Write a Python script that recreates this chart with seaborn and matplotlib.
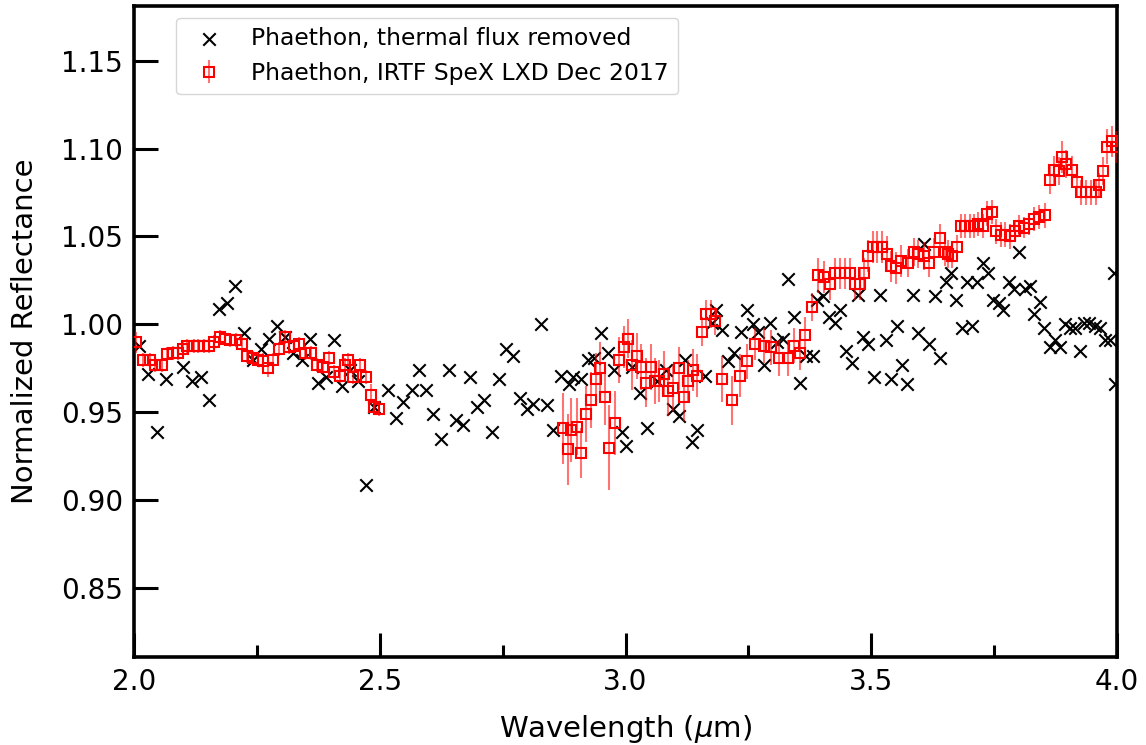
import numpy as np
import pandas as pd
import matplotlib
matplotlib.use("Agg")
import matplotlib.pyplot as plt
import seaborn as sns
from matplotlib.ticker import MultipleLocator

# ---- data: thermal-flux-removed spectrum (black x) ----
thermal_wl = [2.009, 2.029, 2.047, 2.065, 2.100, 2.118, 2.136, 2.153, 2.172, 2.189,
              2.206, 2.224, 2.241, 2.258, 2.275, 2.291, 2.307, 2.324, 2.341, 2.358,
              2.375, 2.391, 2.407, 2.423, 2.439, 2.456, 2.471, 2.489, 2.516, 2.533,
              2.548, 2.565, 2.579, 2.594, 2.609, 2.624, 2.640, 2.655, 2.669, 2.684,
              2.698, 2.713, 2.728, 2.742, 2.756, 2.770, 2.785, 2.799, 2.812, 2.827,
              2.841, 2.853, 2.868, 2.884, 2.894, 2.909, 2.924, 2.936, 2.950, 2.964,
              2.977, 2.992, 3.001, 3.014, 3.029, 3.044, 3.063, 3.082, 3.096, 3.108,
              3.121, 3.135, 3.146, 3.162, 3.175, 3.184, 3.197, 3.209, 3.221, 3.234,
              3.247, 3.259, 3.270, 3.282, 3.294, 3.309, 3.320, 3.331, 3.343, 3.354,
              3.367, 3.381, 3.390, 3.402, 3.413, 3.426, 3.436, 3.449, 3.460, 3.472,
              3.483, 3.494, 3.506, 3.518, 3.529, 3.540, 3.552, 3.562, 3.573, 3.584,
              3.596, 3.607, 3.618, 3.630, 3.640, 3.652, 3.662, 3.672, 3.684, 3.694,
              3.704, 3.716, 3.728, 3.738, 3.748, 3.759, 3.769, 3.781, 3.790, 3.801,
              3.813, 3.823, 3.831, 3.843, 3.852, 3.864, 3.874, 3.884, 3.894, 3.904,
              3.915, 3.925, 3.933, 3.944, 3.955, 3.965, 3.976, 3.986, 3.993, 3.996]
thermal_refl = [0.988, 0.972, 0.939, 0.969, 0.976, 0.968, 0.970, 0.957, 1.009, 1.012,
                1.022, 0.995, 0.980, 0.986, 0.992, 0.999, 0.993, 0.984, 0.980, 0.992,
                0.967, 0.970, 0.991, 0.965, 0.974, 0.968, 0.909, 0.953, 0.963, 0.947,
                0.956, 0.963, 0.974, 0.963, 0.949, 0.935, 0.974, 0.946, 0.943, 0.970,
                0.953, 0.957, 0.939, 0.969, 0.986, 0.982, 0.958, 0.952, 0.955, 1.000,
                0.954, 0.940, 0.971, 0.966, 0.970, 0.969, 0.980, 0.981, 0.995, 0.984,
                0.974, 0.939, 0.931, 0.976, 0.961, 0.941, 0.968, 0.974, 0.952, 0.948,
                0.980, 0.933, 0.940, 0.971, 1.001, 1.008, 0.997, 0.979, 0.984, 0.996,
                1.008, 1.000, 0.996, 0.977, 1.001, 0.990, 0.992, 1.026, 1.004, 0.967,
                0.982, 0.982, 1.014, 1.016, 1.004, 1.001, 1.008, 0.985, 0.978, 1.017,
                0.993, 0.989, 0.970, 1.017, 0.991, 0.969, 0.999, 0.977, 0.966, 1.017,
                0.995, 1.046, 0.989, 1.016, 0.981, 1.024, 1.029, 1.014, 0.998, 1.024,
                0.999, 1.024, 1.035, 1.029, 1.014, 1.012, 1.008, 1.024, 1.020, 1.041,
                1.020, 1.022, 1.006, 1.013, 0.998, 0.987, 0.991, 0.987, 1.000, 0.998,
                0.998, 0.985, 1.001, 1.001, 0.999, 0.998, 0.991, 0.991, 1.029, 0.966]

# ---- data: IRTF SpeX LXD Dec 2017 (red squares with error bars) ----
irtf_wl = [2.004, 2.018, 2.033, 2.043, 2.056, 2.066, 2.079, 2.090, 2.100, 2.108,
           2.121, 2.131, 2.142, 2.153, 2.163, 2.174, 2.184, 2.195, 2.207, 2.219,
           2.229, 2.241, 2.252, 2.263, 2.273, 2.283, 2.294, 2.307, 2.316, 2.326,
           2.336, 2.348, 2.361, 2.373, 2.384, 2.397, 2.407, 2.418, 2.429, 2.436,
           2.446, 2.460, 2.472, 2.482, 2.488, 2.499,
           2.872, 2.882, 2.890, 2.901, 2.909, 2.920, 2.930, 2.940, 2.948, 2.958,
           2.967, 2.979, 2.987, 2.997, 3.004, 3.013, 3.023, 3.031, 3.041, 3.052,
           3.060, 3.069, 3.078, 3.087, 3.097, 3.108, 3.118, 3.128, 3.138, 3.146,
           3.156, 3.164, 3.174, 3.182, 3.197, 3.216, 3.233, 3.248, 3.264, 3.282,
           3.295, 3.313, 3.331, 3.343, 3.354, 3.365, 3.379, 3.392, 3.404, 3.416,
           3.426, 3.436, 3.446, 3.457, 3.467, 3.477, 3.485, 3.494, 3.503, 3.512,
           3.521, 3.531, 3.541, 3.550, 3.560, 3.575, 3.586, 3.596, 3.607, 3.618,
           3.628, 3.639, 3.649, 3.656, 3.665, 3.674, 3.683, 3.691, 3.700, 3.709,
           3.718, 3.728, 3.736, 3.746, 3.754, 3.763, 3.772, 3.782, 3.792, 3.801,
           3.811, 3.821, 3.831, 3.842, 3.853, 3.864, 3.872, 3.882, 3.889, 3.897,
           3.908, 3.918, 3.926, 3.936, 3.947, 3.957, 3.964, 3.971, 3.979, 3.989,
           3.998]
irtf_refl = [0.990, 0.980, 0.980, 0.977, 0.977, 0.983, 0.984, 0.984, 0.986, 0.988,
             0.988, 0.988, 0.988, 0.988, 0.990, 0.993, 0.992, 0.991, 0.991, 0.989,
             0.982, 0.981, 0.980, 0.979, 0.975, 0.980, 0.986, 0.993, 0.987, 0.988,
             0.989, 0.984, 0.984, 0.977, 0.976, 0.981, 0.973, 0.971, 0.977, 0.980,
             0.970, 0.977, 0.970, 0.960, 0.953, 0.952,
             0.941, 0.929, 0.940, 0.942, 0.927, 0.949, 0.957, 0.969, 0.975, 0.959,
             0.930, 0.944, 0.980, 0.987, 0.992, 0.977, 0.982, 0.976, 0.967, 0.976,
             0.968, 0.968, 0.972, 0.962, 0.964, 0.975, 0.959, 0.968, 0.974, 0.971,
             0.996, 1.006, 1.006, 1.002, 0.969, 0.957, 0.971, 0.979, 0.989, 0.988,
             0.987, 0.981, 0.981, 0.988, 0.984, 0.994, 1.010, 1.028, 1.027, 1.023,
             1.029, 1.029, 1.029, 1.029, 1.023, 1.023, 1.029, 1.039, 1.044, 1.044,
             1.044, 1.040, 1.033, 1.032, 1.036, 1.035, 1.041, 1.040, 1.039, 1.035,
             1.041, 1.049, 1.041, 1.040, 1.039, 1.044, 1.056, 1.056, 1.056, 1.056,
             1.057, 1.056, 1.063, 1.064, 1.053, 1.051, 1.051, 1.050, 1.053, 1.056,
             1.055, 1.057, 1.060, 1.061, 1.062, 1.082, 1.088, 1.087, 1.095, 1.091,
             1.088, 1.081, 1.075, 1.075, 1.075, 1.075, 1.079, 1.087, 1.101, 1.104,
             1.101]
irtf_err = [0.006, 0.004, 0.004, 0.004, 0.004, 0.004, 0.004, 0.004, 0.004, 0.004,
            0.004, 0.004, 0.004, 0.004, 0.004, 0.004, 0.004, 0.004, 0.004, 0.004,
            0.004, 0.004, 0.004, 0.005, 0.005, 0.004, 0.004, 0.004, 0.004, 0.004,
            0.004, 0.004, 0.004, 0.004, 0.004, 0.004, 0.004, 0.004, 0.004, 0.004,
            0.004, 0.004, 0.004, 0.006, 0.004, 0.004,
            0.020, 0.020, 0.018, 0.016, 0.014, 0.016, 0.016, 0.015, 0.015, 0.016,
            0.024, 0.018, 0.013, 0.012, 0.011, 0.014, 0.013, 0.013, 0.014, 0.013,
            0.013, 0.012, 0.013, 0.014, 0.013, 0.012, 0.014, 0.012, 0.012, 0.012,
            0.008, 0.008, 0.008, 0.008, 0.013, 0.014, 0.012, 0.010, 0.009, 0.010,
            0.010, 0.010, 0.010, 0.010, 0.010, 0.010, 0.008, 0.010, 0.009, 0.009,
            0.009, 0.009, 0.009, 0.009, 0.009, 0.009, 0.009, 0.009, 0.009, 0.009,
            0.009, 0.010, 0.009, 0.009, 0.009, 0.008, 0.008, 0.008, 0.008, 0.008,
            0.008, 0.008, 0.008, 0.008, 0.007, 0.007, 0.007, 0.007, 0.007, 0.007,
            0.007, 0.007, 0.007, 0.007, 0.007, 0.007, 0.007, 0.007, 0.006, 0.006,
            0.006, 0.006, 0.007, 0.007, 0.007, 0.008, 0.008, 0.008, 0.009, 0.008,
            0.008, 0.008, 0.007, 0.007, 0.007, 0.007, 0.007, 0.008, 0.010, 0.009,
            0.009]

thermal_df = pd.DataFrame({"wl": thermal_wl, "refl": thermal_refl})
irtf_df = pd.DataFrame({"wl": irtf_wl, "refl": irtf_refl, "err": irtf_err})

sns.set_style("white")
plt.rcParams["font.family"] = ["DejaVu Sans"]
plt.rcParams["mathtext.fontset"] = "dejavusans"
for key in ["text.color", "axes.labelcolor", "xtick.color", "ytick.color",
            "axes.edgecolor"]:
    plt.rcParams[key] = "black"

fig = plt.figure(figsize=(11.46, 7.45), dpi=100)
ax = fig.add_axes([0.117, 0.118, 0.8577, 0.874])

sns.scatterplot(data=thermal_df, x="wl", y="refl", marker="x", color="black",
                s=80, linewidth=1.5, ax=ax, label="Phaethon, thermal flux removed",
                zorder=2)

ax.errorbar(irtf_df["wl"], irtf_df["refl"], yerr=irtf_df["err"], fmt="s",
            color="red", mfc="none", mec="red", ms=7.8, mew=1.5,
            ecolor=(1.0, 0.0, 0.0, 0.55), elinewidth=1.5, capsize=0,
            label="Phaethon, IRTF SpeX LXD Dec 2017", zorder=3)

ax.set_xlim(2.0, 4.0)
ax.set_ylim(0.811, 1.181)
ax.xaxis.set_major_locator(MultipleLocator(0.5))
ax.xaxis.set_minor_locator(MultipleLocator(0.25))
ax.yaxis.set_major_locator(MultipleLocator(0.05))
ax.xaxis.set_major_formatter(matplotlib.ticker.FormatStrFormatter("%.1f"))
ax.yaxis.set_major_formatter(matplotlib.ticker.FormatStrFormatter("%.2f"))

ax.tick_params(axis="both", which="major", direction="in", length=17, width=2.2,
               labelsize=20, pad=8, top=False, right=False, bottom=True, left=True,
               colors="black")
ax.tick_params(axis="x", which="minor", direction="in", length=9, width=2.2,
               top=False, bottom=True, colors="black")
for sp in ax.spines.values():
    sp.set_linewidth(2.6)
    sp.set_color("black")

ax.set_xlabel("Wavelength ($\\mu$m)", fontsize=21, labelpad=12, color="black")
ax.set_ylabel("Normalized Reflectance", fontsize=21, labelpad=15.5, color="black")

leg = ax.legend(loc="upper left", bbox_to_anchor=(0.031, 1.0), fontsize=16.9,
                frameon=True, borderaxespad=0.5)
leg.get_frame().set_edgecolor("#cccccc")
for t in leg.get_texts():
    t.set_color("black")

fig.savefig("out.png", dpi=100)
